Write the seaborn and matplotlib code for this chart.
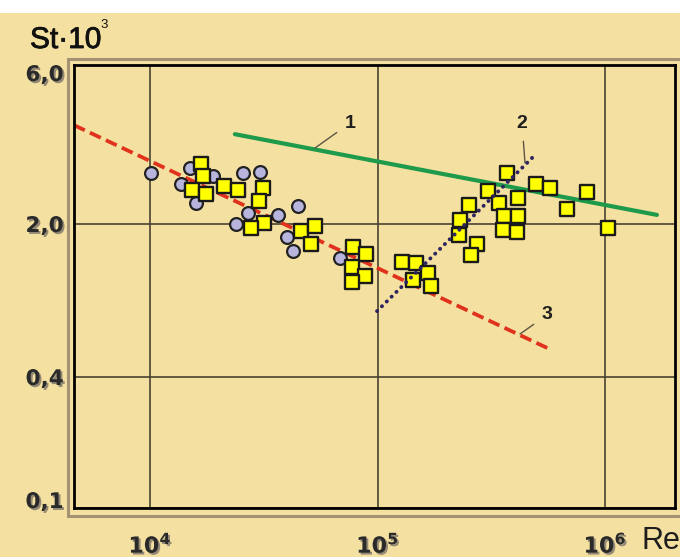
import numpy as np
import matplotlib
matplotlib.use("Agg")
import matplotlib.pyplot as plt
import matplotlib.patheffects as pe
from matplotlib.patches import Rectangle
from matplotlib.ticker import NullLocator
import seaborn as sns

# Stanton number (St x 10^3) versus Reynolds number
circle_re = [10100, 15000, 13700, 15900, 18900, 25600, 30500, 27000, 23900,
             36500, 44700, 40000, 42500, 68400]
circle_st = [2.84, 2.95, 2.64, 2.31, 2.79, 2.84, 2.86, 2.16, 2.00,
             2.13, 2.27, 1.74, 1.51, 1.40]

square_re = [16800, 17100, 15300, 17600, 21200, 24400, 31400, 30100, 31700, 27800,
             46100, 53100, 51000, 78000, 89000, 77200, 88100, 77200,
             128000, 148000, 167000, 143000, 172000,
             371000, 306000, 253000, 231000, 228000, 274000, 258000,
             342000, 415000, 360000, 415000, 356000, 410000,
             497000, 573000, 834000, 681000, 1031000]
square_st = [3.03, 2.79, 2.53, 2.46, 2.60, 2.53, 2.57, 2.34, 2.01, 1.92,
             1.86, 1.96, 1.62, 1.57, 1.46, 1.27, 1.16, 1.09,
             1.34, 1.33, 1.19, 1.11, 1.04,
             2.84, 2.51, 2.28, 2.06, 1.78, 1.62, 1.44,
             2.31, 2.39, 2.11, 2.11, 1.88, 1.84,
             2.64, 2.57, 2.50, 2.22, 1.92]

# correlation lines 1, 2, 3
line1_re = [23600, 1690000]
line1_st = [3.72, 2.13]
line2_re = [99500, 492000]
line2_st = [0.80, 3.22]
line3_re = [4630, 585000]
line3_st = [3.96, 0.53]

x_ticks = [1e4, 1e5, 1e6]
x_labels = [r"$\mathbf{10^{4}}$", r"$\mathbf{10^{5}}$", r"$\mathbf{10^{6}}$"]
y_ticks = [0.1, 0.4, 2.0, 6.0]
y_labels = ["0,1", "0,4", "2,0", "6,0"]

sns.set_theme(style="white")
plt.rcParams["font.family"] = ["DejaVu Sans"]
plt.rcParams["mathtext.fontset"] = "dejavusans"

BG = "#f4e0a0"
W, H = 680, 557
fig = plt.figure(figsize=(W / 100, H / 100), dpi=100, facecolor=BG)

# white strip along the top and the light outer frame
fig.patches.append(Rectangle((0, 1 - 13 / H), 1, 13 / H, transform=fig.transFigure,
                             facecolor="white", edgecolor="none", zorder=0))
fig.patches.append(Rectangle((68 / W, 1 - 516 / H), (681 - 68) / W, (516 - 59) / H,
                             transform=fig.transFigure, fill=False,
                             edgecolor="#a39273", lw=2.2, zorder=0))

ax = fig.add_axes([74 / W, 1 - 508 / H, (675 - 74) / W, (508 - 65) / H])
ax.set_facecolor(BG)

# ordinate scale: the tick values are placed at hand-chosen heights
y_pos = np.array([0.0, 131.0, 284.0, 443.0])
log_ticks = np.log10(y_ticks)


def fwd(v):
    v = np.asarray(v, dtype=float)
    return np.interp(np.log10(np.clip(v, 1e-6, None)), log_ticks, y_pos)


def inv(p):
    p = np.asarray(p, dtype=float)
    return 10 ** np.interp(p, y_pos, log_ticks)


ax.set_xscale("log")
ax.set_yscale("function", functions=(fwd, inv))
ax.set_xlim(4633, 2.03e6)
ax.set_ylim(0.1, 6.0)

# lines
sns.lineplot(x=line1_re, y=line1_st, ax=ax, color="#1d9a4a", lw=3.0,
             estimator=None, sort=False, zorder=2)
sns.lineplot(x=line3_re, y=line3_st, ax=ax, color="#e0321c", lw=2.7,
             linestyle=(0, (3.2, 1.5)), estimator=None, sort=False, zorder=2)

# measured points
sns.scatterplot(x=circle_re, y=circle_st, ax=ax, marker="o", s=85,
                color="#b7b5dd", edgecolor="#222222", linewidth=1.6, zorder=3)
sns.scatterplot(x=square_re, y=square_st, ax=ax, marker="s", s=100,
                color="#ffff00", edgecolor="#1a1a1a", linewidth=1.7, zorder=4)

sns.lineplot(x=line2_re, y=line2_st, ax=ax, color="#2e2560", lw=2.8,
             linestyle=(0, (0.05, 1.7)), dash_capstyle="round",
             estimator=None, sort=False, zorder=5)

# grid and frame
ax.set_xticks(x_ticks)
ax.xaxis.set_minor_locator(NullLocator())
ax.set_yticks(y_ticks)
ax.yaxis.set_minor_locator(NullLocator())
ax.grid(True, color="#4a4232", lw=1.2)
for sp in ax.spines.values():
    sp.set_color("black")
    sp.set_linewidth(2.0)
    sp.set_visible(True)

shadow = [pe.SimplePatchShadow(offset=(1.4, -1.4), shadow_rgbFace="#8a8070", alpha=0.9),
          pe.Normal()]
ax.set_xticklabels(x_labels, fontsize=16, color="#2a2a2a")
ax.set_yticklabels(y_labels, fontsize=15.5, fontweight="bold", color="#2a2a2a")
ax.tick_params(length=0)
ax.tick_params(axis="y", pad=7.5)
ax.tick_params(axis="x", pad=17)
for t in ax.get_xticklabels() + ax.get_yticklabels():
    t.set_path_effects(shadow)
yt = ax.yaxis.get_major_ticks()
yt[0].label1.set_va("baseline")
yt[-1].label1.set_va("top")

ax.set_xlabel("")
ax.set_ylabel("")

# axis titles
fig.text(30 / W, 1 - 48 / H, "St·10", fontsize=21.5, family="Liberation Sans",
         color="#111111", va="baseline", ha="left",
         path_effects=[pe.withStroke(linewidth=0.6, foreground="#111111")])
fig.text(100 / W, 1 - 28 / H, "3", fontsize=9.5, family="Liberation Sans",
         color="#111111", va="baseline", ha="left")
fig.text(641 / W, 1 - 541 / H, "Re", fontsize=22, family="Liberation Sans",
         color="#1e1e1e", va="center", ha="left")

# line labels with leaders
arrow = dict(arrowstyle="-", color="#5d5445", lw=1.0, shrinkA=4, shrinkB=0)
lab = dict(textcoords="offset pixels", ha="center", va="center", fontsize=14,
           fontweight="bold", family="Liberation Sans", color="#1e1e1e", arrowprops=arrow)
ax.annotate("1", xy=(53100, 3.38), xytext=(35, 25), **lab)
ax.annotate("2", xy=(444900, 3.05), xytext=(-3, 39), **lab)
ax.annotate("3", xy=(423000, 0.629), xytext=(27, 19), **lab)

fig.savefig("out.png", dpi=100, facecolor=BG)
